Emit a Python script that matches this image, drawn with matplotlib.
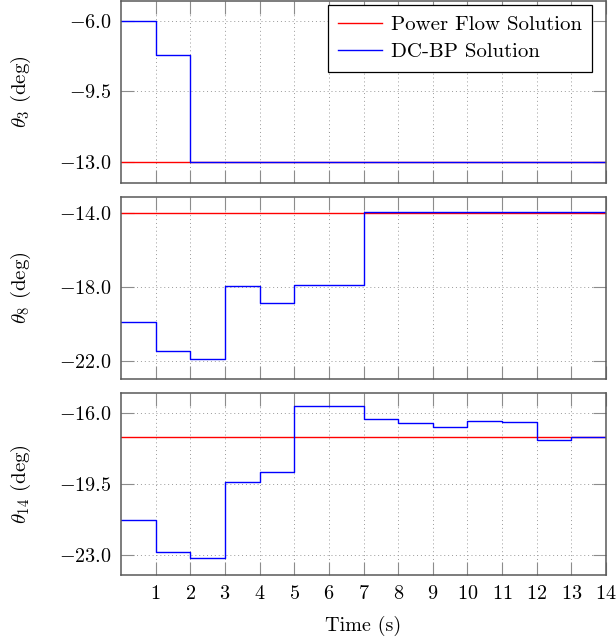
import matplotlib

matplotlib.use("Agg")
import matplotlib.pyplot as plt

plt.rcParams["font.family"] = "cmr10"
plt.rcParams["mathtext.fontset"] = "cm"
plt.rcParams["axes.formatter.use_mathtext"] = True

# step edges (s) and values held on each 1 s interval
time = [0, 1, 2, 3, 4, 5, 6, 7, 8, 9, 10, 11, 12, 13, 14]

pf_theta3 = [-13.0] * 14
bp_theta3 = [-6.0, -7.72, -13.0, -13.0, -13.0, -13.0, -13.0, -13.0, -13.0, -13.0, -13.0, -13.0, -13.0, -13.0]

pf_theta8 = [-13.96] * 14
bp_theta8 = [-19.9, -21.49, -21.89, -17.95, -18.85, -17.9, -17.88, -13.93, -13.93, -13.93, -13.93, -13.93, -13.93, -13.93]

pf_theta14 = [-17.18] * 14
bp_theta14 = [-21.27, -22.85, -23.13, -19.37, -18.91, -15.64, -15.64, -16.3, -16.46, -16.66, -16.38, -16.45, -17.3, -17.18]

yticks_3 = [-13.0, -9.5, -6.0]
yticks_8 = [-22.0, -18.0, -14.0]
yticks_14 = [-23.0, -19.5, -16.0]
xticks = [1, 2, 3, 4, 5, 6, 7, 8, 9, 10, 11, 12, 13, 14]

FS = 14.5


def _steps(values):
    return values + [values[-1]]


def _style(ax, yticks, ylim, label):
    ax.set_xlim(0, 14)
    ax.set_ylim(*ylim)
    ax.set_xticks(xticks)
    ax.set_yticks(yticks)
    ax.set_yticklabels([f"${v:.1f}$" for v in yticks])
    ax.tick_params(direction="in", length=9.5, width=0.8, color="0.55",
                   top=True, right=True, labelsize=FS, pad=7)
    ax.tick_params(axis="x", pad=7.5)
    ax.grid(True, color="0.6", linestyle=(0, (1, 3)), linewidth=0.7)
    for sp in ax.spines.values():
        sp.set_color("0.35")
        sp.set_linewidth(1.1)
    ax.set_ylabel(label, fontsize=15)
    ax.yaxis.set_label_coords(-0.182, 0.5)


fig = plt.figure(figsize=(6.16, 6.42), dpi=100)
left, width, height = 121 / 616, 485 / 616, 182.3 / 642
ax1 = fig.add_axes([left, 1 - 182.8 / 642, width, height])
ax2 = fig.add_axes([left, 1 - 379 / 642, width, height])
ax3 = fig.add_axes([left, 1 - 575 / 642, width, height])

panels = [
    (ax1, pf_theta3, bp_theta3, yticks_3, (-14.05, -4.99), r"$\theta_3$ (deg)"),
    (ax2, pf_theta8, bp_theta8, yticks_8, (-23.0, -13.1), r"$\theta_8$ (deg)"),
    (ax3, pf_theta14, bp_theta14, yticks_14, (-23.97, -14.99), r"$\theta_{14}$ (deg)"),
]
for ax, pf, bp, yt, yl, lab in panels:
    ax.plot(time, _steps(pf), drawstyle="steps-post", color="#ff0000", lw=1.0,
            label="Power Flow Solution")
    ax.plot(time, _steps(bp), drawstyle="steps-post", color="#0000ff", lw=1.0,
            label="DC-BP Solution")
    _style(ax, yt, yl, lab)

ax1.tick_params(labelbottom=False)
ax2.tick_params(labelbottom=False)
ax3.set_xlabel("Time (s)", fontsize=FS, labelpad=9)

leg = ax1.legend(loc="upper right", bbox_to_anchor=(0.971, 0.974), borderaxespad=0,
                 fontsize=15, fancybox=False, framealpha=1, edgecolor="black",
                 handlelength=2.1, handletextpad=0.4, labelspacing=0.4,
                 borderpad=0.5)
leg.get_frame().set_linewidth(0.9)

fig.savefig("out.png", dpi=100)
